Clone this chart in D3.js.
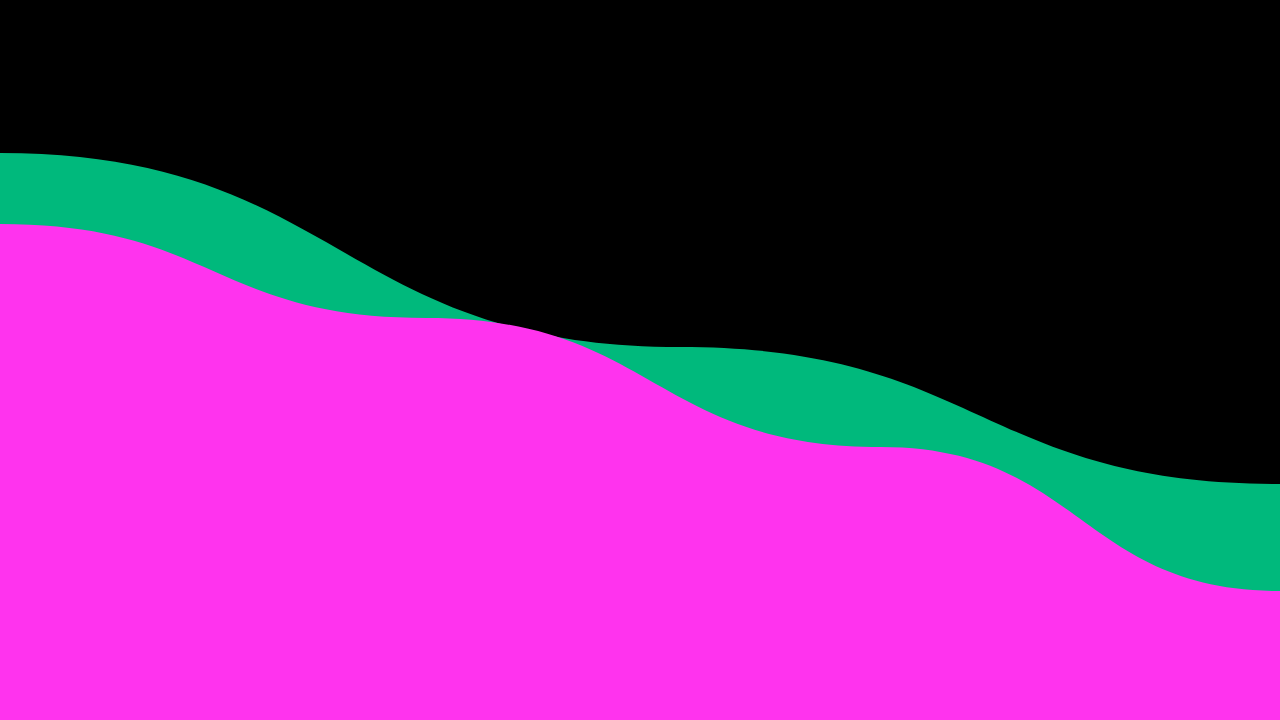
<!DOCTYPE html>
<html>
<head>
<meta charset="utf-8">
<script src="https://cdn.jsdelivr.net/npm/d3@7"></script>
<style>
  html, body { margin: 0; padding: 0; background: #000; overflow: hidden; }
  svg { display: block; }
</style>
</head>
<body>
<script>
// data (x in % of width, value = height above bottom)
const backX = [0, 53.1, 100]
const backVal = [567, 373, 236]
const frontX = [0, 33.3, 68.8, 100]
const frontVal = [496, 402, 273, 129]

const width = 1280, height = 720

const x = d3.scaleLinear().domain([0, 100]).range([0, width])
const y = d3.scaleLinear().domain([0, 720]).range([height, 0])

const svg = d3.select('body')
  .append('svg')
  .attr('width', width)
  .attr('height', height)

svg.append('rect')
  .attr('width', width)
  .attr('height', height)
  .attr('fill', '#000')

const area = d3.area()
  .x(d => x(d[0]))
  .y0(y(0))
  .y1(d => y(d[1]))
  .curve(d3.curveBumpX)

//back wave
svg.append('path')
  .datum(d3.zip(backX, backVal))
  .attr('d', area)
  .attr('fill', '#00b97c')

//front wave
svg.append('path')
  .datum(d3.zip(frontX, frontVal))
  .attr('d', area)
  .attr('fill', '#ff33ee')
</script>
</body>
</html>
